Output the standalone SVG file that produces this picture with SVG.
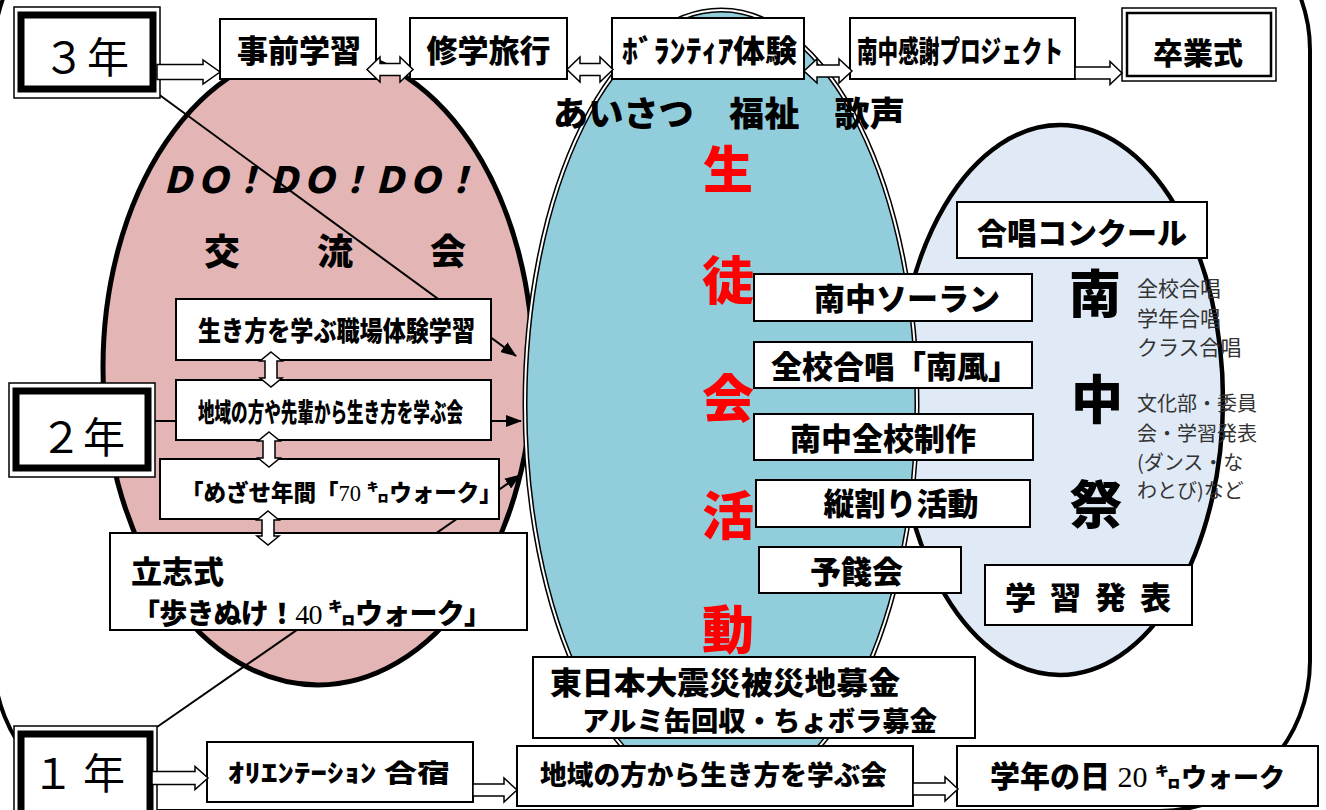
<svg xmlns="http://www.w3.org/2000/svg" width="1326" height="810" viewBox="0 0 1326 810">
<style>
.box{fill:#fff;stroke:#000;stroke-width:2}
.t{font-family:"Noto Sans CJK JP","Noto Sans CJK SC",sans-serif;font-weight:900;fill:#000}
.n{font-family:"Noto Sans CJK JP","Noto Sans CJK SC",sans-serif;font-weight:normal;fill:#000}
.s{font-family:"Noto Sans CJK JP","Noto Sans CJK SC",sans-serif;font-weight:normal;fill:#333}
.serif{font-family:"Liberation Serif",serif;font-weight:normal}
.ha{fill:#fff;stroke:#000;stroke-width:1.5;stroke-linejoin:miter}
.ln{stroke:#000;stroke-width:2;fill:none}
.red{fill:#ff0000}
</style>
<defs>
<marker id="ah" markerUnits="userSpaceOnUse" markerWidth="16" markerHeight="12" refX="15" refY="6" orient="auto">
<path d="M0,0 L16,6 L0,12 Z" fill="#000"/>
</marker>
<clipPath id="ecl"><ellipse cx="1060" cy="400" rx="163" ry="275"/></clipPath>
<filter id="tex" x="0" y="0" width="100%" height="100%">
<feTurbulence type="fractalNoise" baseFrequency="0.045" numOctaves="4" seed="7"/>
<feColorMatrix type="matrix" values="0 0 0 0 0.74  0 0 0 0 0.82  0 0 0 0 0.93  1.3 0 0 0 -0.45"/>
</filter>
</defs>
<rect width="1326" height="810" fill="#fff"/>

<g id="frame">
<rect x="-6" y="-100" width="1316" height="911" rx="150" ry="150" fill="none" stroke="#000" stroke-width="4"/>
</g>

<g id="nanchusai-ellipse">
<ellipse cx="1060" cy="400" rx="163" ry="275" fill="#e0eaf6"/>
<rect x="890" y="120" width="340" height="560" fill="#fff" filter="url(#tex)" clip-path="url(#ecl)"/>
<ellipse cx="1060" cy="400" rx="163" ry="275" fill="none" stroke="#000" stroke-width="4.5"/>
</g>

<g id="koryu-ellipse">
<ellipse cx="318" cy="367" rx="215" ry="318" fill="#e4b5b5" stroke="#000" stroke-width="5"/>
</g>

<g id="seitokai-ellipse">
<ellipse cx="721" cy="405" rx="196" ry="395" fill="#92cddc" stroke="#000" stroke-width="5"/>
<ellipse cx="721" cy="405" rx="196" ry="395" fill="none" stroke="#fff" stroke-width="2"/>
</g>

<g id="ellipse-labels">
<text class="t" x="553" y="126" font-size="34" textLength="352" lengthAdjust="spacingAndGlyphs">あいさつ　福祉　歌声</text>
<text class="t" x="160" y="193" font-size="36" font-style="italic" textLength="318" lengthAdjust="spacingAndGlyphs">ＤＯ！ＤＯ！ＤＯ！</text>
<text class="t" font-size="36" text-anchor="middle" y="265"><tspan x="222">交</tspan><tspan x="335">流</tspan><tspan x="448">会</tspan></text>
<text class="t red" font-size="50" text-anchor="middle" x="728" y="188">生</text>
<text class="t red" font-size="52" text-anchor="middle" x="728" y="300">徒</text>
<text class="t red" font-size="52" text-anchor="middle" x="728" y="418">会</text>
<text class="t red" font-size="52" text-anchor="middle" x="728" y="535">活</text>
<text class="t red" font-size="52" text-anchor="middle" x="728" y="649">動</text>
<text class="t" font-size="52" text-anchor="middle" x="1095" y="313">南</text>
<text class="t" font-size="52" text-anchor="middle" x="1097" y="419">中</text>
<text class="t" font-size="52" text-anchor="middle" x="1096" y="524">祭</text>
<text class="s" font-size="21" x="1137"><tspan x="1137" y="296">全校合唱</tspan><tspan x="1137" y="326">学年合唱</tspan><tspan x="1137" y="355">クラス合唱</tspan></text>
<text class="s" font-size="20" x="1137"><tspan x="1137" y="411">文化部・委員</tspan><tspan x="1137" y="441">会・学習発表</tspan><tspan x="1137" y="470">(ダンス・な</tspan><tspan x="1137" y="498">わとび)など</tspan></text>
</g>

<g id="connectors">
<line class="ln" x1="150" y1="88" x2="516" y2="356" marker-end="url(#ah)"/>
<line class="ln" x1="155" y1="421" x2="521" y2="421" marker-end="url(#ah)"/>
<line class="ln" x1="157" y1="727" x2="520" y2="475" marker-end="url(#ah)"/>
</g>

<g id="grade3">
<rect x="14" y="7" width="146" height="91" fill="#fff" stroke="#000" stroke-width="1.5"/>
<rect x="21" y="15" width="132" height="74" fill="#fff" stroke="#000" stroke-width="7"/>
<text class="n" font-size="42" text-anchor="middle" y="72.5"><tspan x="64">３</tspan><tspan x="108">年</tspan></text>
</g>
<g id="grade2">
<rect x="9" y="383" width="146" height="94" fill="#fff" stroke="#000" stroke-width="1.5"/>
<rect x="16" y="391" width="132" height="77" fill="#fff" stroke="#000" stroke-width="7"/>
<text class="n" font-size="42" text-anchor="middle" y="452.5"><tspan x="61">２</tspan><tspan x="104">年</tspan></text>
</g>
<g id="grade1">
<rect x="14" y="726" width="143" height="100" fill="#fff" stroke="#000" stroke-width="1.5"/>
<rect x="21" y="734" width="129" height="100" fill="#fff" stroke="#000" stroke-width="7"/>
<text class="n" font-size="42" text-anchor="middle" y="789"><tspan x="53">１</tspan><tspan x="104">年</tspan></text>
</g>

<g id="jizen">
<rect class="box" x="220" y="19" width="156" height="60"/>
<text class="t" x="299" y="62" font-size="31" text-anchor="middle">事前学習</text>
</g>
<g id="shugaku">
<rect class="box" x="410" y="18" width="157" height="61"/>
<text class="t" x="488.5" y="62" font-size="31" text-anchor="middle">修学旅行</text>
</g>
<g id="volunteer">
<rect class="box" x="612" y="18" width="192" height="61"/>
<text class="t" x="622" y="62" font-size="31" textLength="175" lengthAdjust="spacingAndGlyphs">ﾎﾞﾗﾝﾃｨｱ体験</text>
</g>
<g id="kansha">
<rect class="box" x="850" y="18" width="225" height="61"/>
<text class="t" x="857" y="61.5" font-size="30" textLength="206" lengthAdjust="spacingAndGlyphs">南中感謝プロジェクト</text>
</g>
<g id="sotsugyo">
<rect x="1122" y="8" width="154" height="73" fill="#fff" stroke="#000" stroke-width="1.5"/>
<rect x="1127" y="13" width="144" height="63" fill="#fff" stroke="#000" stroke-width="2.5"/>
<text class="t" x="1198" y="63.5" font-size="30" text-anchor="middle">卒業式</text>
</g>

<g id="shokuba">
<rect class="box" x="176" y="299" width="315" height="61"/>
<text class="t" x="198" y="341" font-size="27" textLength="277" lengthAdjust="spacingAndGlyphs">生き方を学ぶ職場体験学習</text>
</g>
<g id="senpai">
<rect class="box" x="176" y="380" width="315" height="60"/>
<text class="t" x="198" y="422" font-size="26" textLength="265" lengthAdjust="spacingAndGlyphs">地域の方や先輩から生き方を学ぶ会</text>
</g>
<g id="mezase">
<rect class="box" x="160" y="459" width="339" height="60"/>
<text class="t" x="181" y="501" font-size="22.5">「めざせ年間「<tspan class="serif">70 </tspan>㌔ウォーク」</text>
</g>
<g id="risshi">
<rect class="box" x="110" y="533" width="417" height="97"/>
<text class="t" x="131" y="583" font-size="31">立志式</text>
<text class="t" x="132" y="624" font-size="28" textLength="360" lengthAdjust="spacing">「歩きぬけ！<tspan class="serif">40 </tspan>㌔ウォーク」</text>
</g>

<g id="soran">
<rect class="box" x="754" y="274" width="278" height="47"/>
<text class="t" x="907" y="309.5" font-size="31" text-anchor="middle">南中ソーラン</text>
</g>
<g id="minamikaze">
<rect class="box" x="754" y="342" width="278" height="46"/>
<text class="t" x="771" y="378" font-size="31">全校合唱「南風」</text>
</g>
<g id="seisaku">
<rect class="box" x="754" y="414" width="279" height="46"/>
<text class="t" x="883" y="449.5" font-size="31" text-anchor="middle">南中全校制作</text>
</g>
<g id="tatewari">
<rect class="box" x="756" y="480" width="274" height="47"/>
<text class="t" x="901" y="514.5" font-size="31" text-anchor="middle">縦割り活動</text>
</g>
<g id="yosenkai">
<rect class="box" x="759" y="547" width="202" height="46"/>
<text class="t" x="856.5" y="583" font-size="31" text-anchor="middle">予餞会</text>
</g>
<g id="gassho">
<rect class="box" x="957" y="202" width="250" height="56"/>
<text class="t" x="1082" y="244" font-size="30" text-anchor="middle">合唱コンクール</text>
</g>
<g id="gakushu">
<rect class="box" x="985" y="565" width="207" height="60"/>
<text class="t" x="1005" y="608.5" font-size="31" letter-spacing="14">学習発表</text>
</g>

<g id="bokin">
<rect class="box" x="533" y="657" width="442" height="81"/>
<text class="t" x="550" y="694" font-size="31" textLength="350" lengthAdjust="spacingAndGlyphs">東日本大震災被災地募金</text>
<text class="t" x="582" y="730.5" font-size="27" textLength="355" lengthAdjust="spacingAndGlyphs">アルミ缶回収・ちょボラ募金</text>
</g>
<g id="orientation">
<rect class="box" x="207" y="742" width="266" height="60"/>
<text class="t" x="228" y="781.5" font-size="25" textLength="222" lengthAdjust="spacingAndGlyphs">ｵﾘｴﾝﾃｰｼｮﾝ 合宿</text>
</g>
<g id="chiiki1">
<rect class="box" x="517" y="746" width="396" height="60"/>
<text class="t" x="540" y="785" font-size="27" textLength="347" lengthAdjust="spacingAndGlyphs">地域の方から生き方を学ぶ会</text>
</g>
<g id="gakunen">
<rect class="box" x="957" y="746" width="361" height="60"/>
<text class="t" x="990" y="786.5" font-size="30">学年の日<tspan class="serif"> 20 </tspan><tspan font-size="26">㌔ウォーク</tspan></text>
</g>

<g id="block-arrows">
<path class="ha" d="M157,64.5 H203 V60 L220,72 L203,84 V79.5 H157 Z"/>
<path class="ha" d="M367,69.5 L380,57 V63.5 H400 V57 L413,69.5 L400,82 V75.5 H380 V82 Z"/>
<path class="ha" d="M567,69.5 L580,57 V63.5 H600 V57 L613,69.5 L600,82 V75.5 H580 V82 Z"/>
<path class="ha" d="M804,71 L817,59 V65 H839 V59 L852,71 L839,83 V77 H817 V83 Z"/>
<path class="ha" d="M1075,67 H1110 V61.5 L1122,73 L1110,84.5 V79 H1075 Z"/>
<path class="ha" d="M152,771.5 H195 V766.5 L208,778 L195,789.5 V784.5 H152 Z"/>
<path class="ha" d="M473,784 H504 V778 L517,790 L504,802 V796 H473 Z"/>
<path class="ha" d="M913,783 H945 V777 L958,789 L945,801 V795 H913 Z"/>
<path class="ha" d="M271,352 L282,361 H277 V378 H282 L271,387 L260,378 H265 V361 H260 Z"/>
<path class="ha" d="M269,432 L280,441 H275 V458 H280 L269,467 L258,458 H263 V441 H258 Z"/>
<path class="ha" d="M268,511 L279,520 H274 V536 H279 L268,545 L257,536 H262 V520 H257 Z"/>
</g>
</svg>
